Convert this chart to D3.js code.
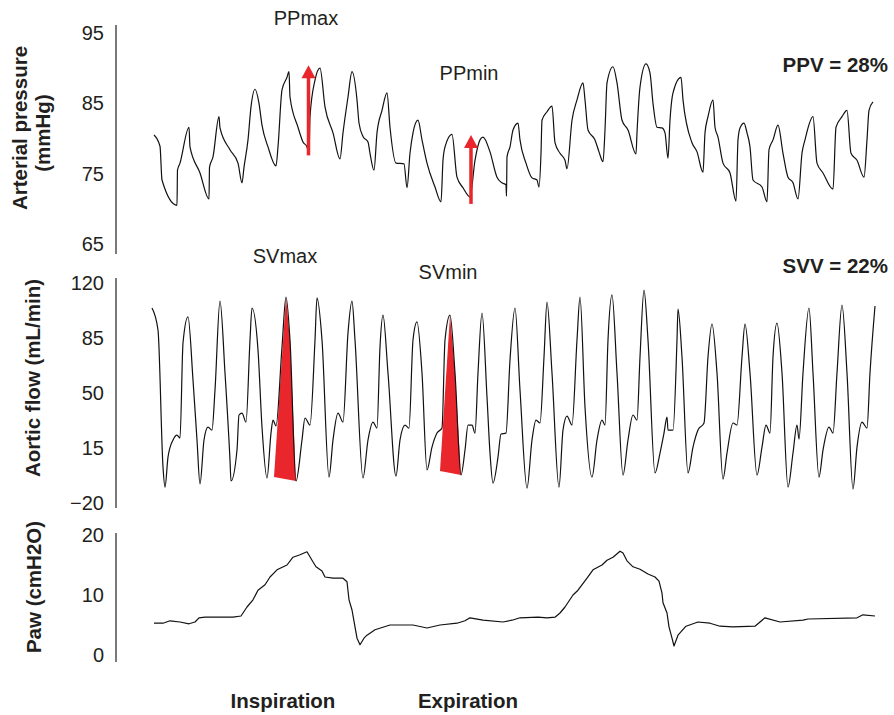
<!DOCTYPE html>
<html>
<head>
<meta charset="utf-8">
<script src="https://cdnjs.cloudflare.com/ajax/libs/d3/7.8.5/d3.min.js"></script>
<style>
  body { margin: 0; background: #fff; }
  svg text { font-family: "Liberation Sans", Arial, Helvetica, sans-serif; fill: #231f20; }
</style>
</head>
<body>
<script>
'use strict';

// [time (s), arterial pressure (mmHg)]
let arterialPressure = [
  [0.04, 80.5], [0.16, 78.9], [0.20, 74.1], [0.50, 70.5], [0.51, 75.5], [0.56, 76.5], [0.74, 81.6],
  [0.76, 78.8], [0.96, 75.1], [1.14, 71.4], [1.15, 75.9], [1.22, 77.4], [1.34, 83.1], [1.36, 81.5],
  [1.56, 78.4], [1.72, 76.5], [1.80, 73.7], [1.84, 75.9], [1.92, 79.8], [1.98, 84.5], [2.06, 87.0],
  [2.14, 85.0], [2.20, 81.9], [2.32, 78.8], [2.48, 76.1], [2.52, 78.8], [2.60, 86.9], [2.70, 88.7],
  [2.74, 89.5], [2.76, 85.9], [2.92, 81.6], [3.02, 79.5], [3.10, 78.8], [3.14, 77.8], [3.16, 83.1],
  [3.26, 88.3], [3.36, 90.0], [3.46, 84.5], [3.62, 80.8], [3.76, 77.1], [3.82, 80.8], [3.92, 85.9],
  [4.00, 89.5], [4.10, 85.5], [4.14, 82.2], [4.22, 80.3], [4.32, 79.5], [4.36, 77.9], [4.44, 75.5],
  [4.50, 80.8], [4.60, 84.0], [4.70, 86.5], [4.76, 81.6], [4.88, 76.5], [5.04, 76.4], [5.10, 73.0],
  [5.16, 77.9], [5.22, 80.8], [5.32, 82.6], [5.40, 79.8], [5.50, 76.5], [5.66, 73.1], [5.78, 71.0],
  [5.82, 76.9], [5.86, 78.8], [6.00, 80.6], [6.10, 74.5], [6.22, 73.0], [6.36, 71.7], [6.46, 76.9],
  [6.56, 79.8], [6.62, 80.2], [6.76, 78.1], [6.90, 74.5], [7.00, 73.7], [7.08, 73.4], [7.09, 71.8],
  [7.10, 77.4], [7.16, 78.8], [7.22, 81.2], [7.32, 82.2], [7.36, 79.8], [7.48, 76.5], [7.60, 74.4],
  [7.70, 74.1], [7.74, 73.1], [7.78, 77.9], [7.80, 82.6], [7.90, 83.8], [8.00, 84.6], [8.06, 79.4],
  [8.16, 77.9], [8.26, 76.9], [8.30, 75.7], [8.40, 82.6], [8.50, 85.5], [8.62, 87.9], [8.66, 85.5],
  [8.72, 81.2], [8.86, 79.8], [8.94, 78.1], [9.02, 76.7], [9.06, 81.2], [9.10, 87.9], [9.22, 90.2],
  [9.30, 87.9], [9.40, 82.6], [9.52, 81.2], [9.68, 77.8], [9.70, 80.8], [9.76, 87.3], [9.88, 90.6],
  [9.96, 89.3], [10.02, 85.0], [10.10, 81.6], [10.20, 81.5], [10.26, 80.8], [10.32, 77.2], [10.36, 82.6],
  [10.42, 86.5], [10.58, 88.7], [10.62, 85.5], [10.80, 79.4], [10.90, 78.1], [11.02, 75.2], [11.06, 80.8],
  [11.12, 83.1], [11.22, 85.5], [11.26, 81.6], [11.32, 80.2], [11.42, 76.5], [11.56, 75.1], [11.68, 71.1],
  [11.72, 79.8], [11.76, 81.5], [11.84, 82.2], [11.90, 80.8], [11.96, 78.8], [12.02, 74.1], [12.20, 73.1],
  [12.30, 71.0], [12.34, 78.4], [12.42, 79.8], [12.52, 81.9], [12.62, 77.9], [12.72, 74.5], [12.82, 73.7],
  [12.92, 71.4], [13.00, 77.9], [13.06, 79.8], [13.22, 83.1], [13.30, 76.5], [13.42, 75.1], [13.62, 72.8],
  [13.68, 81.6], [13.80, 83.1], [13.90, 84.0], [13.98, 77.9], [14.10, 76.9], [14.24, 74.5], [14.30, 79.8],
  [14.34, 84.0], [14.42, 85.2]
];

// [time (s), aortic flow (mL/min)]
let aorticFlow = [
  [0.00, 104.1], [0.12, 90.1], [0.22, 2.9], [0.26, -9.9], [0.32, 9.2], [0.42, 20.1], [0.50, 23.2],
  [0.56, 21.3], [0.62, 81.8], [0.72, 98.4], [0.82, 58.3], [0.90, 20.1], [0.96, -7.9], [1.04, 20.1],
  [1.12, 28.3], [1.20, 26.4], [1.26, 51.9], [1.36, 108.5], [1.46, 62.7], [1.56, 7.3], [1.58, -6.0],
  [1.70, 13.7], [1.74, 36.0], [1.80, 37.2], [1.88, 31.5], [1.96, 83.7], [2.00, 104.1], [2.12, 77.4],
  [2.20, 28.3], [2.30, -4.1], [2.38, 24.5], [2.42, 32.8], [2.48, 29.0], [2.60, 79.3], [2.68, 111.1],
  [2.76, 83.7], [2.88, -6.0], [3.00, 20.1], [3.06, 34.1], [3.16, 29.6], [3.26, 83.7], [3.30, 110.5],
  [3.40, 83.7], [3.54, -3.5], [3.62, 20.1], [3.72, 37.2], [3.82, 31.5], [3.92, 88.2], [4.00, 108.5],
  [4.06, 83.7], [4.22, -4.1], [4.32, 20.1], [4.42, 31.5], [4.50, 27.7], [4.56, 79.3], [4.62, 99.6],
  [4.72, 62.7], [4.88, -2.9], [4.96, 20.1], [5.06, 29.6], [5.14, 27.7], [5.22, 83.7], [5.30, 95.2],
  [5.40, 62.7], [5.50, 1.0], [5.60, 15.6], [5.70, 24.5], [5.80, 27.7], [5.86, 83.7], [5.96, 99.6],
  [6.06, 62.7], [6.18, -2.2], [6.26, 13.7], [6.32, 29.6], [6.40, 29.6], [6.46, 24.5], [6.52, 62.7],
  [6.60, 100.9], [6.70, 47.4], [6.76, 11.8], [6.82, -7.3], [6.92, 9.2], [6.98, 23.9], [7.08, 24.5],
  [7.16, 71.0], [7.26, 104.1], [7.36, 51.9], [7.50, -10.5], [7.60, 20.1], [7.68, 32.8], [7.76, 30.9],
  [7.84, 72.9], [7.90, 107.9], [8.00, 62.7], [8.14, -9.9], [8.22, 26.4], [8.30, 35.3], [8.40, 29.6],
  [8.50, 83.7], [8.56, 111.1], [8.66, 41.1], [8.80, -3.5], [8.90, 20.1], [9.00, 32.8], [9.06, 29.6],
  [9.12, 83.7], [9.20, 112.4], [9.30, 62.7], [9.42, -2.2], [9.52, 20.1], [9.62, 36.0], [9.70, 32.8],
  [9.76, 72.9], [9.84, 115.5], [9.92, 83.7], [10.06, -0.9], [10.16, 11.8], [10.24, 24.5], [10.30, 34.7],
  [10.32, 26.4], [10.42, 26.4], [10.50, 83.7], [10.52, 103.4], [10.60, 72.9], [10.72, -0.9], [10.82, 15.6],
  [10.92, 26.4], [11.04, 30.9], [11.12, 72.9], [11.20, 93.9], [11.30, 62.7], [11.42, -4.8], [11.50, 11.8],
  [11.62, 30.9], [11.70, 29.6], [11.80, 72.9], [11.86, 93.9], [11.96, 62.7], [12.10, -2.2], [12.20, 15.6],
  [12.28, 29.6], [12.36, 24.5], [12.42, 72.9], [12.50, 94.5], [12.60, 62.7], [12.72, -9.9], [12.82, 11.8],
  [12.90, 29.6], [12.94, 20.7], [13.02, 62.7], [13.14, 104.1], [13.22, 62.7], [13.34, -3.5], [13.42, 13.7],
  [13.54, 28.3], [13.62, 24.5], [13.70, 62.7], [13.80, 106.0], [13.90, 62.7], [14.02, -11.1], [14.10, 15.6],
  [14.20, 31.5], [14.30, 27.7], [14.36, 62.7], [14.46, 105.4]
];

// [time (s), airway pressure (cmH2O)]
let airwayPressure = [
  [0.04, 5.3], [0.22, 5.3], [0.36, 5.7], [0.56, 5.5], [0.74, 5.2], [0.86, 5.5], [0.94, 6.2], [1.06, 6.3],
  [1.30, 6.3], [1.62, 6.3], [1.78, 6.5], [1.90, 8.0], [2.02, 9.2], [2.12, 10.8], [2.26, 11.7], [2.36, 13.0],
  [2.50, 14.2], [2.70, 15.0], [2.82, 16.3], [2.96, 16.7], [3.10, 17.2], [3.20, 15.8], [3.28, 14.7],
  [3.40, 14.0], [3.46, 13.0], [3.62, 12.8], [3.82, 12.8], [3.90, 12.2], [3.94, 9.2], [4.00, 7.5],
  [4.06, 4.7], [4.10, 2.8], [4.16, 1.7], [4.24, 2.8], [4.30, 3.3], [4.46, 4.2], [4.76, 5.0], [5.22, 5.0],
  [5.50, 4.5], [5.76, 5.0], [6.10, 5.3], [6.26, 5.7], [6.36, 6.2], [6.62, 5.8], [7.02, 5.5], [7.20, 5.8],
  [7.36, 6.2], [7.72, 6.3], [7.90, 6.2], [8.06, 6.3], [8.16, 7.0], [8.26, 8.0], [8.42, 10.0], [8.52, 10.8],
  [8.70, 12.8], [8.82, 14.2], [9.00, 15.0], [9.10, 15.8], [9.22, 16.3], [9.36, 17.3], [9.42, 17.0],
  [9.50, 15.7], [9.62, 14.7], [9.76, 14.3], [9.92, 13.5], [10.06, 13.0], [10.14, 12.3], [10.20, 10.3],
  [10.22, 8.7], [10.30, 7.0], [10.34, 4.7], [10.40, 2.8], [10.44, 1.5], [10.52, 3.3], [10.68, 4.8],
  [10.92, 5.5], [11.16, 5.3], [11.36, 4.8], [11.62, 4.7], [12.06, 4.8], [12.26, 6.2], [12.56, 5.5],
  [13.02, 5.8], [13.12, 6.0], [14.10, 6.2], [14.22, 6.7], [14.46, 6.5]
];

// pulse pressure arrows: time, from, to (mmHg)
let ppArrows = [
  { label: "PPmax", t: 3.13, from: 77.6, to: 90.4 },
  { label: "PPmin", t: 6.38, from: 70.7, to: 80.5 }
];

// stroke volume triangles: left base, then the beat from peak to trough
let svBeats = [
  { label: "SVmax", base: [2.44, -3.5], peakT: 2.68, endT: 2.88 },
  { label: "SVmin", base: [5.76, 0.3], peakT: 5.96, endT: 6.18 }
];

let pressureTicks = [65, 75, 85, 95];
let flowTicks = [-20, 15, 50, 85, 120];
let pawTicks = [0, 10, 20];

let timeDomain = [0, 14.48];

(function() {

  let width = 894;
  let height = 715;
  let axisX = 116;
  let red = "#e9262c";

  let svg = d3.select('body')
    .append('svg')
    .attr('width', width)
    .attr('height', height);

  // one shared time scale for all three traces
  let xScale = d3.scaleLinear()
    .domain(timeDomain)
    .range([152, 876]);

  let yPressure = d3.scaleLinear().domain([65, 95]).range([244, 33]);
  let yFlow = d3.scaleLinear().domain([-20, 120]).range([503, 283]);
  let yPaw = d3.scaleLinear().domain([0, 20]).range([655, 535]);

  // left axis: vertical rule + tick labels, no tick marks
  function drawAxis(scale, ticks, padTop, padBottom) {
    let axis = d3.axisLeft(scale)
      .tickValues(ticks)
      .tickSize(0)
      .tickPadding(12);

    let g = svg.append('g')
      .attr('transform', 'translate(' + axisX + ',0)')
      .call(axis);
    g.select('.domain').remove();
    g.selectAll('text')
      .style('font-size', '20px')
      .style('font-family', '"Liberation Sans", Arial, sans-serif')
      .attr('fill', '#231f20');

    let r = scale.range();
    svg.append('line')
      .attr('x1', axisX).attr('x2', axisX)
      .attr('y1', d3.min(r) - padTop)
      .attr('y2', d3.max(r) + padBottom)
      .attr('stroke', '#231f20')
      .attr('stroke-width', 1.2);
  }

  drawAxis(yPressure, pressureTicks, 8, 10);
  drawAxis(yFlow, flowTicks, 5, 5);
  drawAxis(yPaw, pawTicks, 2, 7);

  // red stroke volume areas (under the flow trace)
  svBeats.forEach(b => {
    let pts = [b.base].concat(aorticFlow.filter(d => d[0] >= b.peakT && d[0] <= b.endT));
    let poly = d3.line()
      .x(d => xScale(d[0]))
      .y(d => yFlow(d[1]));
    svg.append('path')
      .attr('d', poly(pts) + 'Z')
      .attr('fill', red)
      .attr('stroke', 'none');
  });

  // traces
  let pressureLine = d3.line()
    .curve(d3.curveMonotoneX)
    .x(d => xScale(d[0]))
    .y(d => yPressure(d[1]));
  let flowLine = d3.line()
    .curve(d3.curveMonotoneX)
    .x(d => xScale(d[0]))
    .y(d => yFlow(d[1]));
  let pawLine = d3.line()
    .x(d => xScale(d[0]))
    .y(d => yPaw(d[1]));

  [[arterialPressure, pressureLine], [aorticFlow, flowLine], [airwayPressure, pawLine]].forEach(p => {
    svg.append('path')
      .datum(p[0])
      .attr('fill', 'none')
      .attr('stroke', '#111')
      .attr('stroke-width', 1.2)
      .attr('stroke-linejoin', 'round')
      .attr('d', p[1]);
  });

  // pulse pressure arrows
  ppArrows.forEach(a => {
    let x = xScale(a.t);
    let yTip = yPressure(a.to);
    let yBase = yPressure(a.from);
    svg.append('line')
      .attr('x1', x).attr('x2', x)
      .attr('y1', yBase).attr('y2', yTip + 10)
      .attr('stroke', red)
      .attr('stroke-width', 3.5);
    svg.append('path')
      .attr('d', 'M' + x + ',' + yTip + 'L' + (x + 7) + ',' + (yTip + 13) + 'L' + (x - 7) + ',' + (yTip + 13) + 'Z')
      .attr('fill', red);
  });

  // annotations
  function label(txt, x, y, opts) {
    opts = opts || {};
    let t = svg.append('text')
      .attr('x', x)
      .attr('y', y)
      .attr('text-anchor', opts.anchor || 'middle')
      .style('font-size', (opts.size || 20) + 'px')
      .style('font-weight', opts.bold ? 'bold' : 'normal')
      .text(txt);
    if (opts.rotate) t.attr('transform', 'rotate(-90,' + x + ',' + y + ')');
    return t;
  }

  label(ppArrows[0].label, 306, 25);
  label(ppArrows[1].label, 469, 80);
  label(svBeats[0].label, 285, 263);
  label(svBeats[1].label, 448, 279);

  label('PPV = 28%', 888, 72, { anchor: 'end', bold: true, size: 20.5 });
  label('SVV = 22%', 888, 273, { anchor: 'end', bold: true, size: 20.5 });

  label('Arterial pressure', 27, 128, { bold: true, size: 20.5, rotate: true });
  label('(mmHg)', 50, 133, { bold: true, size: 20.5, rotate: true });
  label('Aortic flow (mL/min)', 40, 378, { bold: true, size: 20.5, rotate: true });
  label('Paw (cmH2O)', 41, 587, { bold: true, size: 20.5, rotate: true });

  label('Inspiration', 283, 708, { bold: true, size: 20.5 });
  label('Expiration', 468, 708, { bold: true, size: 20.5 });

})();
</script>
</body>
</html>
